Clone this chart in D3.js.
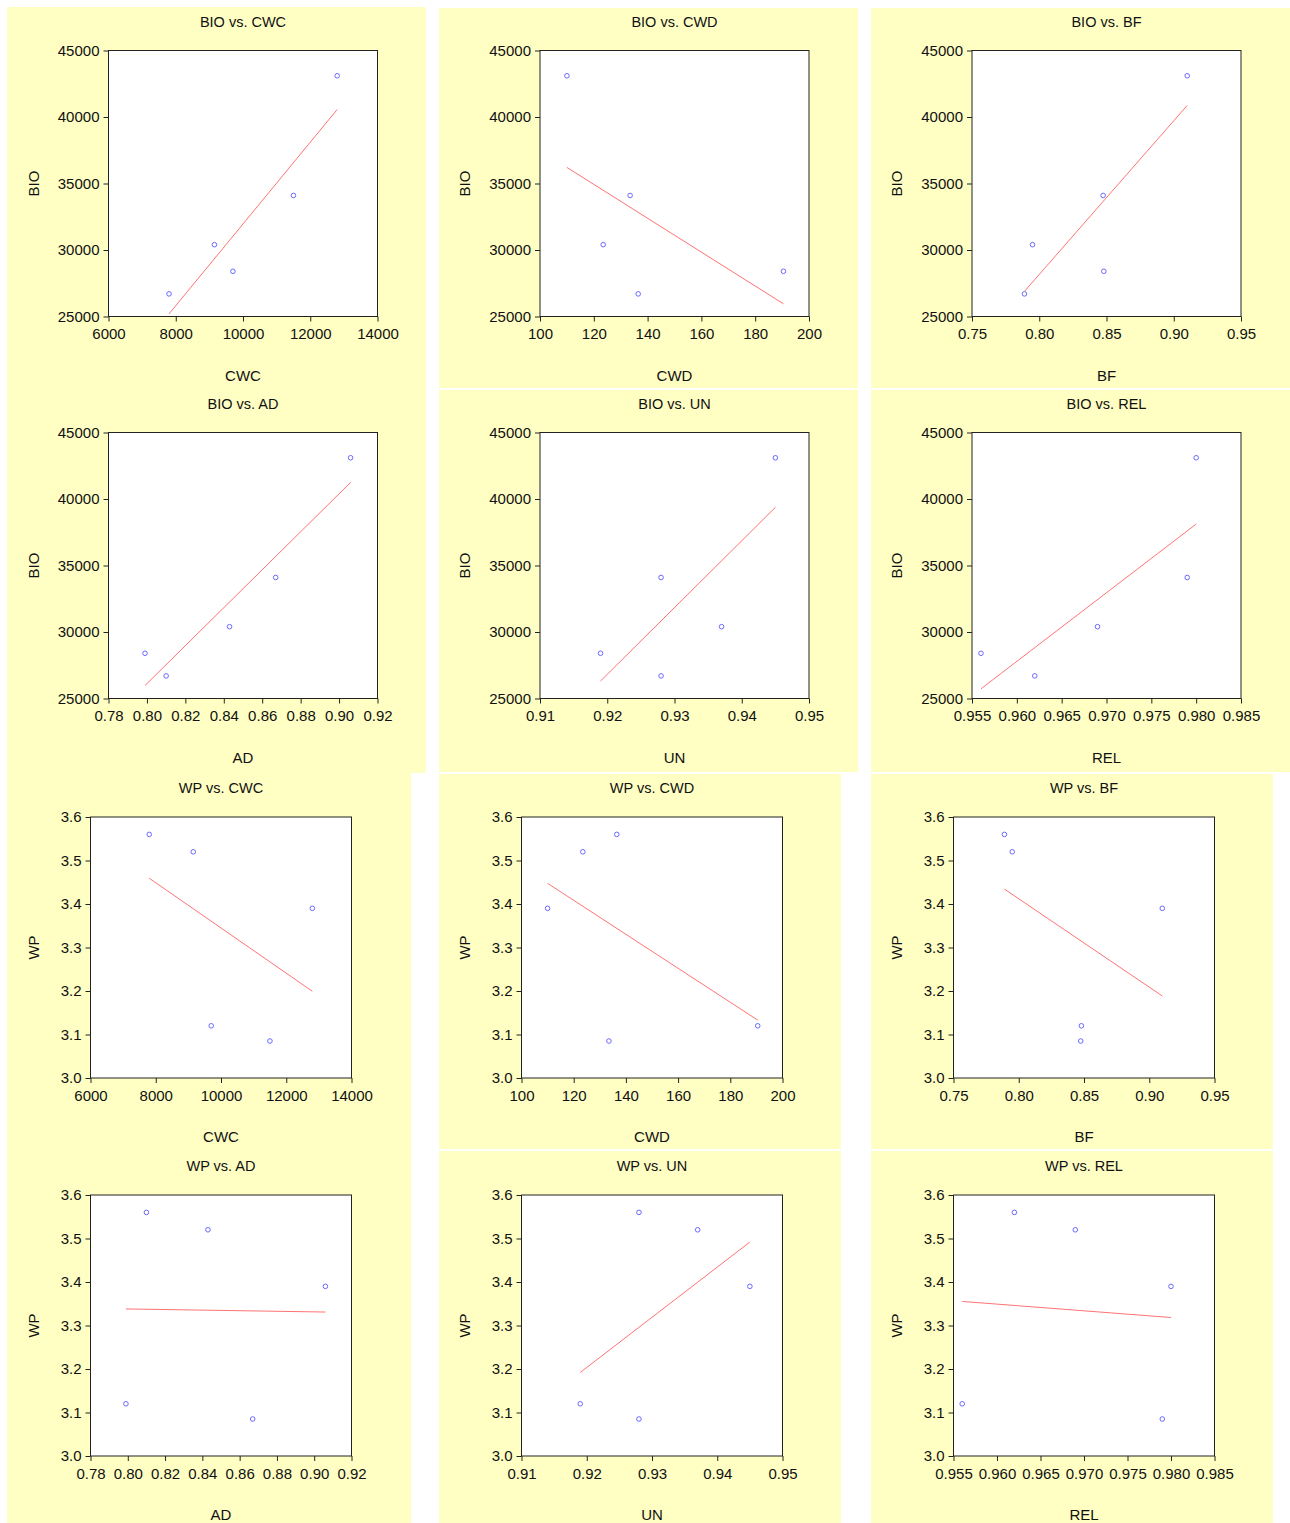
<!DOCTYPE html>
<html>
<head>
<meta charset="utf-8">
<script src="https://cdn.jsdelivr.net/npm/d3@7"></script>
<style>
  html, body { margin: 0; padding: 0; background: #ffffff; }
  svg { display: block; }
  text { font-family: "Liberation Sans", Arial, sans-serif; fill: #111; }
</style>
</head>
<body>
<svg id="chart" width="1290" height="1523"></svg>
<script>
// Five observations; each array holds one variable in the same observation order.
const BIO = [26700, 30400, 28400, 34100, 43100];
const WP  = [3.56, 3.52, 3.12, 3.085, 3.39];
const CWC = [7800, 9150, 9700, 11500, 12800];
const CWD = [136.5, 123.5, 190.5, 133.5, 110];
const BF  = [0.789, 0.795, 0.848, 0.8475, 0.910];
const AD  = [0.810, 0.843, 0.799, 0.867, 0.906];
const UN  = [0.928, 0.937, 0.919, 0.928, 0.945];
const REL = [0.962, 0.969, 0.956, 0.979, 0.980];

// Axis tick labels
const bioTicks = [25000, 30000, 35000, 40000, 45000];
const wpTicks  = [3.0, 3.1, 3.2, 3.3, 3.4, 3.5, 3.6];
const cwcTicks = [6000, 8000, 10000, 12000, 14000];
const cwdTicks = [100, 120, 140, 160, 180, 200];
const bfTicks  = [0.75, 0.80, 0.85, 0.90, 0.95];
const adTicks  = [0.78, 0.80, 0.82, 0.84, 0.86, 0.88, 0.90, 0.92];
const unTicks  = [0.91, 0.92, 0.93, 0.94, 0.95];
const relTicks = [0.955, 0.960, 0.965, 0.970, 0.975, 0.980, 0.985];

const xVars = [
  { name: "CWC", values: CWC, ticks: cwcTicks, fmt: d3.format("d") },
  { name: "CWD", values: CWD, ticks: cwdTicks, fmt: d3.format("d") },
  { name: "BF",  values: BF,  ticks: bfTicks,  fmt: d3.format(".2f") },
  { name: "AD",  values: AD,  ticks: adTicks,  fmt: d3.format(".2f") },
  { name: "UN",  values: UN,  ticks: unTicks,  fmt: d3.format(".2f") },
  { name: "REL", values: REL, ticks: relTicks, fmt: d3.format(".3f") }
];
const yVars = [
  { name: "BIO", values: BIO, ticks: bioTicks, fmt: d3.format("d") },
  { name: "WP",  values: WP,  ticks: wpTicks,  fmt: d3.format(".1f") }
];

// Page layout: yellow backgrounds and plot frames
const svg = d3.select("#chart");
const bg = "#ffffc4";
const panelsBg = [
  [7, 7, 419, 766], [439, 8, 419, 380], [439, 390, 419, 382],
  [871, 8, 419, 380], [871, 390, 419, 382],
  [7, 773, 404, 750], [439, 774, 402, 375], [439, 1151, 402, 372],
  [871, 774, 402, 375], [871, 1151, 402, 372]
];
svg.selectAll("rect.bg").data(panelsBg).join("rect")
  .attr("class", "bg")
  .attr("x", d => d[0]).attr("y", d => d[1])
  .attr("width", d => d[2]).attr("height", d => d[3])
  .attr("fill", bg);

const frames = {
  BIO: { lefts: [108.5, 540, 972], tops: [50.5, 432.5], w: 269, h: 266, ylabOff: -75 },
  WP:  { lefts: [90.5, 521.5, 953.5], tops: [817, 1195], w: 261, h: 261, ylabOff: -57 }
};

function fit(xs, ys) {
  const mx = d3.mean(xs), my = d3.mean(ys);
  let sxy = 0, sxx = 0;
  xs.forEach((x, i) => { sxy += (x - mx) * (ys[i] - my); sxx += (x - mx) * (x - mx); });
  const b = sxy / sxx;
  return x => my + b * (x - mx);
}

yVars.forEach(yv => {
  const fr = frames[yv.name];
  xVars.forEach((xv, k) => {
    const col = k % 3, row = Math.floor(k / 3);
    const left = fr.lefts[col], top = fr.tops[row], w = fr.w, h = fr.h;
    const g = svg.append("g").attr("transform", `translate(${left},${top})`);

    const x = d3.scaleLinear().domain(d3.extent(xv.ticks)).range([0, w]);
    const y = d3.scaleLinear().domain(d3.extent(yv.ticks)).range([h, 0]);

    g.append("rect").attr("width", w).attr("height", h)
      .attr("fill", "#ffffff").attr("stroke", "#222").attr("stroke-width", 1);

    const xa = g.append("g").attr("transform", `translate(0,${h})`)
      .call(d3.axisBottom(x).tickValues(xv.ticks).tickFormat(xv.fmt).tickSize(5).tickPadding(7));
    const ya = g.append("g")
      .call(d3.axisLeft(y).tickValues(yv.ticks).tickFormat(yv.fmt).tickSize(5).tickPadding(4));
    [xa, ya].forEach(a => {
      a.select(".domain").remove();
      a.selectAll("line").attr("stroke", "#222");
      a.selectAll("text").attr("font-size", 15).attr("fill", "#111")
        .attr("font-family", "'Liberation Sans', Arial, sans-serif");
    });

    // Least-squares line across the observed x range
    const f = fit(xv.values, yv.values);
    const xr = d3.extent(xv.values);
    g.append("path")
      .attr("d", d3.line()([[x(xr[0]), y(f(xr[0]))], [x(xr[1]), y(f(xr[1]))]]))
      .attr("fill", "none").attr("stroke", "#ff7373").attr("stroke-width", 1);

    g.selectAll("circle").data(xv.values.map((v, i) => [v, yv.values[i]])).join("circle")
      .attr("cx", d => x(d[0])).attr("cy", d => y(d[1])).attr("r", 2.3)
      .attr("fill", "none").attr("stroke", "#6a6aff").attr("stroke-width", 1);

    g.append("text").attr("x", w / 2).attr("y", -24).attr("text-anchor", "middle")
      .attr("font-size", 14.5).text(`${yv.name} vs. ${xv.name}`);
    g.append("text").attr("x", w / 2).attr("y", h + 64).attr("text-anchor", "middle")
      .attr("font-size", 15).text(xv.name);
    g.append("text").attr("transform", `translate(${fr.ylabOff},${h / 2}) rotate(-90)`)
      .attr("text-anchor", "middle").attr("dy", "0.35em")
      .attr("font-size", 15).text(yv.name);
  });
});
</script>
</body>
</html>
